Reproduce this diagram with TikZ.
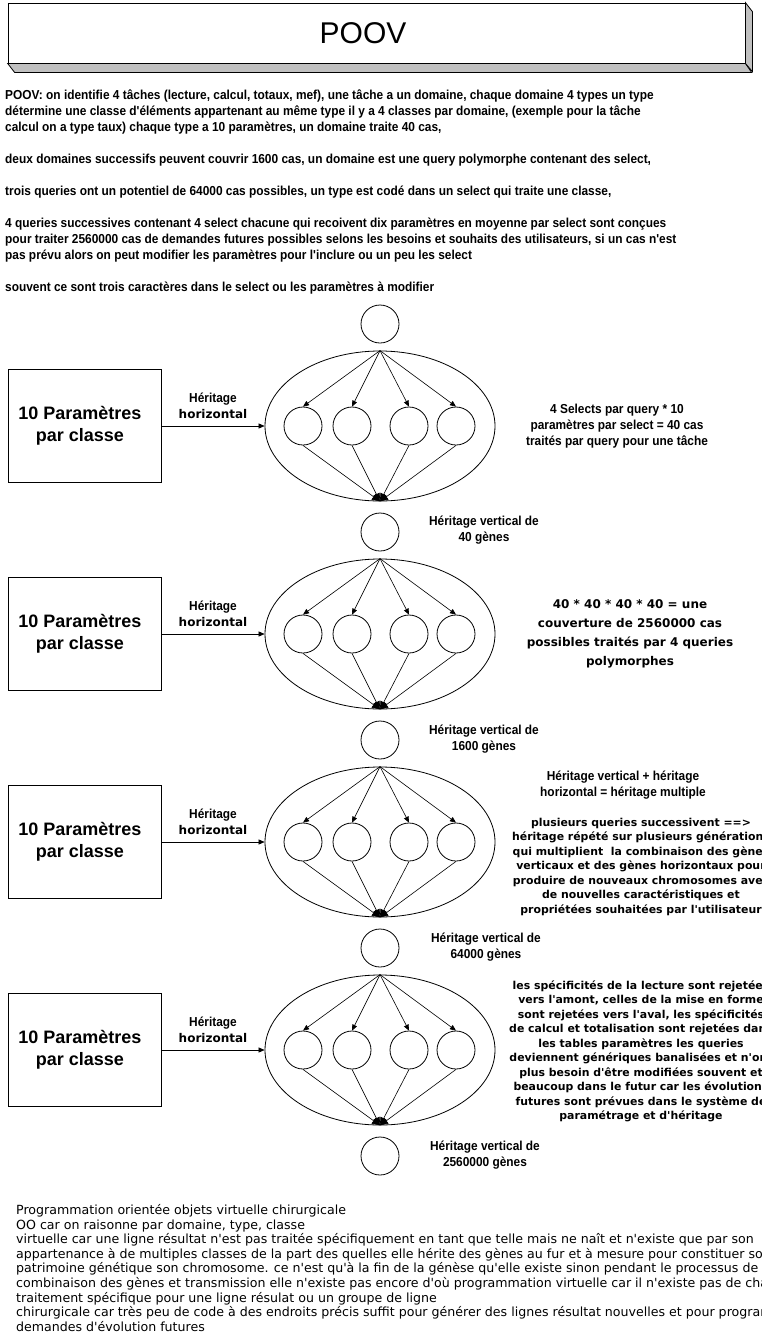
\documentclass[tikz,border=0pt]{standalone}
\usepackage{fontspec}
\setmainfont{Liberation Sans}
\newfontfamily\narrowfont{Liberation Sans}[FakeStretch=0.915]
\newfontfamily\widefont{DejaVu Sans}
\usetikzlibrary{arrows.meta, positioning, shapes.geometric}
\definecolor{shade}{RGB}{192,192,192}

\begin{document}
\begin{tikzpicture}[
  x=1pt, y=-1pt,
  gene/.style={draw, circle, minimum size=38pt, inner sep=0pt, line width=0.8pt},
  query/.style={draw, ellipse, minimum width=230pt, minimum height=150pt, inner sep=0pt, line width=0.8pt},
  classbox/.style={draw, rectangle, minimum width=153pt, minimum height=113pt, line width=0.8pt},
  classlab/.style={align=center, inner sep=0pt, font=\bfseries\fontsize{18}{22}\selectfont},
  link/.style={-{Triangle[length=6pt, width=5pt]}, line width=0.6pt},
  merge/.style={-{Triangle[length=8pt, width=7pt]}, line width=0.6pt},
  narrow/.style={font=\narrowfont\bfseries\fontsize{13}{16}\selectfont, inner sep=0pt},
  wide/.style={font=\widefont\bfseries\fontsize{10.9}{14.5}\selectfont, inner sep=0pt, align=center},
]
  \useasboundingbox (0,0) rectangle (761,1336);
  \clip (0,0) rectangle (761,1336);
  \fill[white] (0,0) rectangle (761,1336);

  % Title box with 3D edges
  \node[draw, line width=0.8pt, minimum width=737pt, minimum height=60pt] (title) at (376.5,33) {};
  \node[font=\fontsize{30}{34}\selectfont, inner sep=0pt] (titletext) at (363,33) {POOV};
  \draw[fill=shade, line width=0.8pt] (title.south west) -- ++(7,9) -- ++(737,0) -- (title.south east) -- cycle;
  \draw[fill=shade, line width=0.8pt] (title.north east) -- ++(7,9) -- ++(0,60) -- (title.south east) -- cycle;

  % Intro text
  \node[narrow, align=left, anchor=west] (intro1) at (5,112) {POOV: on identifie 4 tâches (lecture, calcul, totaux, mef), une tâche a un domaine, chaque domaine 4 types un type\\
    détermine une classe d'éléments appartenant au même type il y a 4 classes par domaine, (exemple pour la tâche\\
    calcul on a type taux) chaque type a 10 paramètres, un domaine traite 40 cas,};
  \node[narrow, anchor=west] (intro2) at (5,160) {deux domaines successifs peuvent couvrir 1600 cas, un domaine est une query polymorphe contenant des select,};
  \node[narrow, anchor=west] (intro3) at (5,192) {trois queries ont un potentiel de 64000 cas possibles, un type est codé dans un select qui traite une classe,};
  \node[narrow, align=left, anchor=west] (intro4) at (5,240) {4 queries successives contenant 4 select chacune qui recoivent dix paramètres en moyenne par select sont conçues\\
    pour traiter 2560000 cas de demandes futures possibles selons les besoins et souhaits des utilisateurs, si un cas n'est\\
    pas prévu alors on peut modifier les paramètres pour l'inclure ou un peu les select};
  \node[narrow, anchor=west] (intro5) at (5,288) {souvent ce sont trois caractères dans le select ou les paramètres à modifier};

  % Vertical chain of genes
  \foreach \k/\yc in {0/324, 1/532, 2/740, 3/948, 4/1156} {
    \node[gene] (v\k) at (380,\yc) {};
  }

  % Four queries with their selects
  \foreach \i/\yc in {1/426, 2/634, 3/842, 4/1050} {
    \node[query] (q\i) at (380,\yc) {};
    \node[classbox] (box\i) at (84.5,\yc) {};
    \node[classlab] (boxlab\i) at (80,\yc) {10 Paramètres\\par classe};
    \foreach \j/\x in {1/303, 2/352, 3/409, 4/456} {
      \node[gene] (s\i\j) at (\x,\yc) {};
      \draw[link] (q\i.north) -- (s\i\j.north);
      \draw[merge] (s\i\j.south) -- (q\i.south);
    }
    \draw[link] (box\i.east) -- (q\i.west);
    \node[narrow, align=center] (hor\i) at (213,\yc-20) {Héritage\\{\widefont\fontsize{12}{16}\selectfont horizontal}};
  }

  % Vertical inheritance labels
  \node[narrow, align=center] (vert1) at (484,530) {Héritage vertical de\\40 gènes};
  \node[narrow, align=center] (vert2) at (484,739) {Héritage vertical de\\1600 gènes};
  \node[narrow, align=center] (vert3) at (486,947) {Héritage vertical de\\64000 gènes};
  \node[narrow, align=center] (vert4) at (485,1155) {Héritage vertical de\\2560000 gènes};

  % Notes on the right
  \node[narrow, align=center] (sel) at (617,426) {4 Selects par query * 10\\paramètres par select = 40 cas\\traités par query pour une tâche};
  \node[wide, font=\widefont\bfseries\fontsize{12}{19}\selectfont] (cover) at (630,634) {40 * 40 * 40 * 40 = une\\couverture de 2560000 cas\\possibles traités par 4 queries\\polymorphes};
  \node[narrow, align=center] (multi) at (623,785) {Héritage vertical + héritage\\horizontal = héritage multiple};
  \node[wide] (succ) at (641,866.5) {plusieurs queries successivent ==>\\héritage répété sur plusieurs générations\\qui multiplient\ \ la combinaison des gènes\\verticaux et des gènes horizontaux pour\\produire de nouveaux chromosomes avec\\de nouvelles caractéristiques et\\propriétées souhaitées par l'utilisateur};
  \node[wide] (spec) at (641,1051.5) {les spécificités de la lecture sont rejetées\\vers l'amont, celles de la mise en forme\\sont rejetées vers l'aval, les spécificités\\de calcul et totalisation sont rejetées dans\\les tables paramètres les queries\\deviennent génériques banalisées et n'ont\\plus besoin d'être modifiées souvent et\\beaucoup dans le futur car les évolutions\\futures sont prévues dans le système de\\paramétrage et d'héritage};

  % Bottom text
  \node[font=\widefont\fontsize{12.6}{14.6}\selectfont, inner sep=0pt, align=left, anchor=west] (poov) at (16,1268) {Programmation orientée objets virtuelle chirurgicale\\
    OO car on raisonne par domaine, type, classe\\
    virtuelle car une ligne résultat n'est pas traitée spécifiquement en tant que telle mais ne naît et n'existe que par son\\
    appartenance à de multiples classes de la part des quelles elle hérite des gènes au fur et à mesure pour constituer son\\
    patrimoine génétique son chromosome. ce n'est qu'à la fin de la génèse qu'elle existe sinon pendant le processus de\\
    combinaison des gènes et transmission elle n'existe pas encore d'où programmation virtuelle car il n'existe pas de chaîne\\
    traitement spécifique pour une ligne résulat ou un groupe de ligne\\
    chirurgicale car très peu de code à des endroits précis suffit pour générer des lignes résultat nouvelles et pour programmer\\
    demandes d'évolution futures};
\end{tikzpicture}
\end{document}
